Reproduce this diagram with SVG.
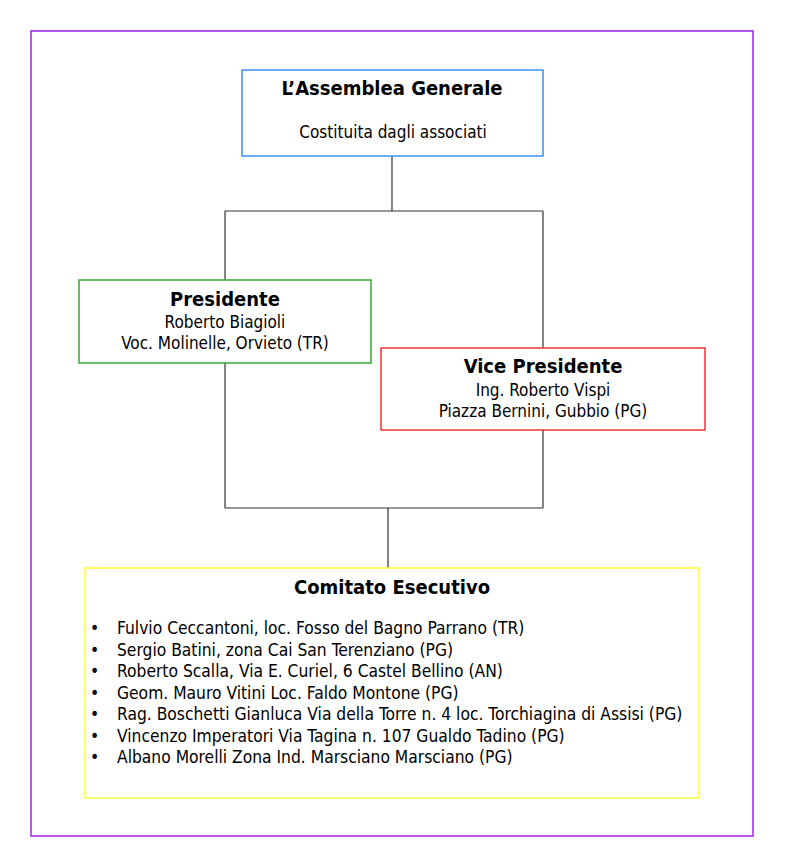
<svg xmlns="http://www.w3.org/2000/svg" width="785" height="868" viewBox="0 0 785 868">
<style>
text{font-family:"DejaVu Sans Condensed","DejaVu Sans",sans-serif;fill:#000}
.t{font-size:20px;font-weight:bold;text-anchor:middle}
.b{font-size:17px;text-anchor:middle}
.l{font-size:17.3px}
.box{fill:#fff;stroke-width:1.5}
.con{fill:none;stroke:#333;stroke-width:1.2}
</style>
<rect x="0" y="0" width="785" height="868" fill="#fff"/>
<rect x="31" y="31" width="722" height="805" fill="none" stroke="#a020f0" stroke-width="1.5"/>
<g id="connectors" class="con">
<path d="M392 156V211M225 211H543M225 211V280M543 211V348M225 363V508M543 430V508M225 508H543M388 508V568"/>
</g>
<g id="assemblea">
<rect class="box" x="242" y="70" width="301" height="86" stroke="#3d8ef0"/>
<text class="t" x="392" y="95">L’Assemblea Generale</text>
<text class="b" x="393" y="138">Costituita dagli associati</text>
</g>
<g id="presidente">
<rect class="box" x="79" y="280" width="292" height="83" stroke="#33a833"/>
<text class="t" x="225" y="306">Presidente</text>
<text class="b" x="225" y="328">Roberto Biagioli</text>
<text class="b" x="225" y="349">Voc. Molinelle, Orvieto (TR)</text>
</g>
<g id="vicepresidente">
<rect class="box" x="381" y="348" width="324" height="82" stroke="#ee3333"/>
<text class="t" x="543" y="373">Vice Presidente</text>
<text class="b" x="543" y="396">Ing. Roberto Vispi</text>
<text class="b" x="543" y="417">Piazza Bernini, Gubbio (PG)</text>
</g>
<g id="comitato">
<rect class="box" x="85" y="568" width="614" height="230" stroke="#ffff33"/>
<text class="t" x="392" y="594">Comitato Esecutivo</text>
<g class="l">
<text x="90" y="634">•</text><text x="117" y="634">Fulvio Ceccantoni, loc. Fosso del Bagno Parrano (TR)</text>
<text x="90" y="655.5">•</text><text x="117" y="655.5">Sergio Batini, zona Cai San Terenziano (PG)</text>
<text x="90" y="677">•</text><text x="117" y="677">Roberto Scalla, Via E. Curiel, 6 Castel Bellino (AN)</text>
<text x="90" y="698.5">•</text><text x="117" y="698.5">Geom. Mauro Vitini Loc. Faldo Montone (PG)</text>
<text x="90" y="720">•</text><text x="117" y="720">Rag. Boschetti Gianluca Via della Torre n. 4 loc. Torchiagina di Assisi (PG)</text>
<text x="90" y="741.5">•</text><text x="117" y="741.5">Vincenzo Imperatori Via Tagina n. 107 Gualdo Tadino (PG)</text>
<text x="90" y="763">•</text><text x="117" y="763">Albano Morelli Zona Ind. Marsciano Marsciano (PG)</text>
</g>
</g>
</svg>
